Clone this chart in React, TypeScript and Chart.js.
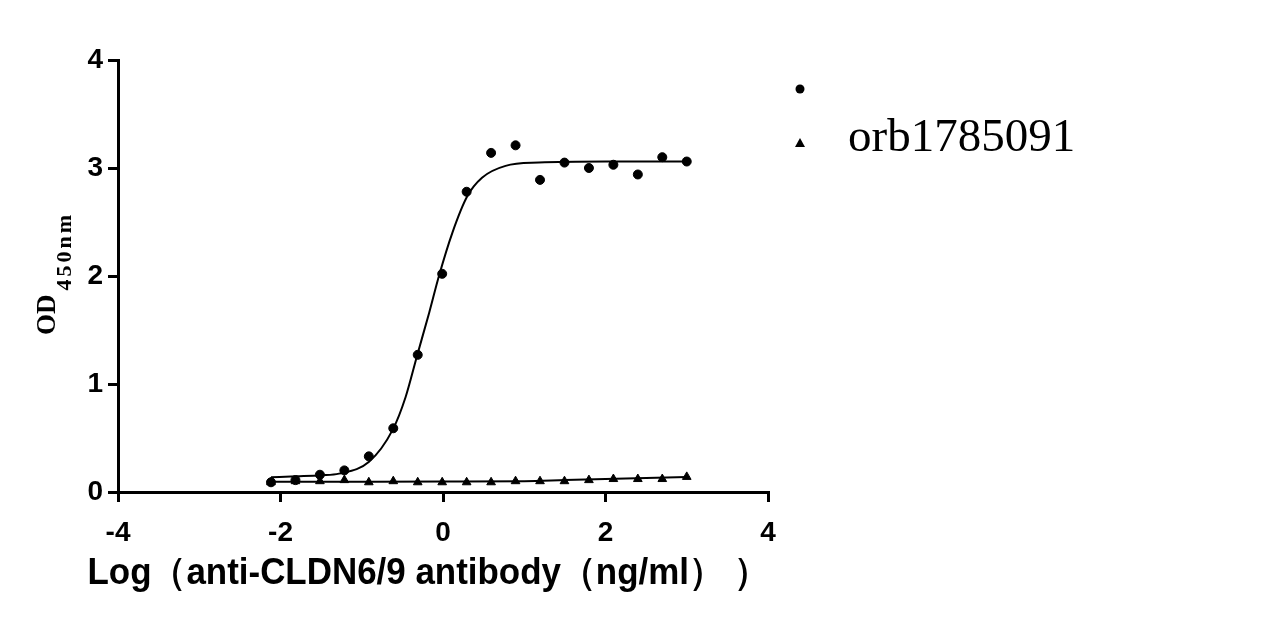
import React, { useEffect, useRef } from 'react';
import { Chart, registerables } from 'chart.js';

Chart.register(...registerables);

// log concentration (ng/ml), 2-fold dilution series
const logConc = [-2.117, -1.816, -1.515, -1.214, -0.913, -0.612, -0.311, -0.01, 0.291, 0.592, 0.893, 1.194, 1.495, 1.796, 2.097, 2.398, 2.699, 3.0];
const odSample = [0.09, 0.11, 0.16, 0.2, 0.33, 0.59, 1.27, 2.02, 2.78, 3.14, 3.21, 2.89, 3.05, 3.0, 3.03, 2.94, 3.1, 3.06];
const odControl = [0.09, 0.1, 0.1, 0.11, 0.09, 0.1, 0.09, 0.09, 0.09, 0.09, 0.1, 0.1, 0.1, 0.11, 0.12, 0.12, 0.12, 0.14];

// fitted curves
const fitX = [-2.117, -1.8, -1.5, -1.28, -0.91, -0.62, -0.46, -0.32, -0.17, -0.05, 0.115, 0.3, 0.48, 0.77, 1.18, 2.0, 3.0];
const fitSample = [0.136, 0.145, 0.155, 0.17, 0.28, 0.575, 0.88, 1.26, 1.66, 2.0, 2.4, 2.74, 2.91, 3.02, 3.05, 3.06, 3.06];
const fitCtrlX = [-2.117, -1.0, 0.0, 1.0, 1.5, 2.0, 3.0];
const fitControl = [0.096, 0.096, 0.097, 0.1, 0.11, 0.12, 0.14];

const xTicks = [-4, -2, 0, 2, 4];
const yTicks = [0, 1, 2, 3, 4];

const legendLabels = ['', 'orb1785091'];
const xTitle = 'Log（anti-CLDN6/9 antibody（ng/ml） ）';

const sansBold = '"Liberation Sans", Arial, sans-serif';
const serif = '"Liberation Serif", "Times New Roman", serif';

const toPoints = (xs: number[], ys: number[]) => xs.map((x, i) => ({ x, y: ys[i] }));

// axis titles (the x one is wider than the plot, so not the scale title) and the legend
const extrasPlugin = {
  id: 'extras',
  afterDraw(chart: any) {
    const ctx = chart.ctx;
    ctx.save();
    ctx.fillStyle = '#000';
    ctx.font = `bold 37px ${sansBold}`;
    ctx.textAlign = 'center';
    ctx.textBaseline = 'alphabetic';
    ctx.fillText(xTitle, 428, 584, 681);
    ctx.restore();

    ctx.save();
    ctx.fillStyle = '#000';
    ctx.textBaseline = 'alphabetic';
    ctx.textAlign = 'left';
    ctx.translate(55, 335);
    ctx.rotate(-Math.PI / 2);
    ctx.font = `bold 27px ${serif}`;
    ctx.fillText('OD', 0, 0);
    const w = ctx.measureText('OD').width;
    ctx.font = `bold 22px ${serif}`;
    ctx.letterSpacing = '3px';
    ctx.fillText('450nm', w + 4, 16);
    ctx.restore();

    // legend
    ctx.save();
    ctx.fillStyle = '#000';
    const rows = [89, 143];
    chart.data.datasets.slice(0, 2).forEach((ds: any, i: number) => {
      const y = rows[i];
      ctx.beginPath();
      if (ds.pointStyle === 'triangle') {
        ctx.moveTo(800, y - 5);
        ctx.lineTo(805, y + 4);
        ctx.lineTo(795, y + 4);
        ctx.closePath();
      } else {
        ctx.arc(800, y, 4.5, 0, Math.PI * 2);
      }
      ctx.fill();
      ctx.font = `47px ${serif}`;
      ctx.textBaseline = 'middle';
      ctx.fillText(ds.label, 848, y - 4);
    });
    ctx.restore();
  },
};

const App: React.FC = () => {
  const canvasRef = useRef<HTMLCanvasElement>(null);

  useEffect(() => {
    document.body.style.margin = '0';
    if (!canvasRef.current) return;

    const chart = new Chart(canvasRef.current, {
      type: 'scatter',
      data: {
        datasets: [
          {
            label: legendLabels[0],
            data: toPoints(logConc, odSample),
            pointStyle: 'circle',
            pointRadius: 4.5,
            backgroundColor: '#000',
            borderColor: '#000',
            showLine: false,
          },
          {
            label: legendLabels[1],
            data: toPoints(logConc, odControl),
            pointStyle: 'triangle',
            pointRadius: 5,
            backgroundColor: '#000',
            borderColor: '#000',
            showLine: false,
          },
          {
            label: 'fit1',
            data: toPoints(fitX, fitSample),
            showLine: true,
            pointRadius: 0,
            borderColor: '#000',
            borderWidth: 2,
            cubicInterpolationMode: 'monotone',
          },
          {
            label: 'fit2',
            data: toPoints(fitCtrlX, fitControl),
            showLine: true,
            pointRadius: 0,
            borderColor: '#000',
            borderWidth: 2,
            cubicInterpolationMode: 'monotone',
          },
        ],
      },
      options: {
        responsive: true,
        maintainAspectRatio: false,
        animation: false,
        events: [],
        layout: { padding: { top: 60, right: 503, left: 0, bottom: 0 } },
        plugins: {
          legend: { display: false },
          tooltip: { enabled: false },
        },
        scales: {
          x: {
            type: 'linear',
            min: -4,
            max: 4,
            afterBuildTicks: (s: any) => {
              s.ticks = xTicks.map((v) => ({ value: v }));
            },
            afterFit: (s: any) => {
              s.height = 133;
            },
            border: { color: '#000', width: 3 },
            grid: { drawOnChartArea: false, color: '#000', lineWidth: 3, tickLength: 10 },
            ticks: {
              color: '#000',
              padding: 14,
              font: { family: sansBold, size: 28, weight: 'bold' },
            },
          },
          y: {
            type: 'linear',
            min: 0,
            max: 4,
            afterBuildTicks: (s: any) => {
              s.ticks = yTicks.map((v) => ({ value: v }));
            },
            afterFit: (s: any) => {
              s.width = 118;
            },
            border: { color: '#000', width: 3 },
            grid: { drawOnChartArea: false, color: '#000', lineWidth: 3, tickLength: 10 },
            ticks: {
              color: '#000',
              padding: 5,
              font: { family: sansBold, size: 28, weight: 'bold' },
            },
          },
        },
      },
      plugins: [extrasPlugin],
    });

    return () => {
      chart.destroy();
    };
  }, []);

  return (
    <div style={{ position: 'relative', width: 1271, height: 625, background: '#fff' }}>
      <canvas ref={canvasRef} />
    </div>
  );
};

export default App;
